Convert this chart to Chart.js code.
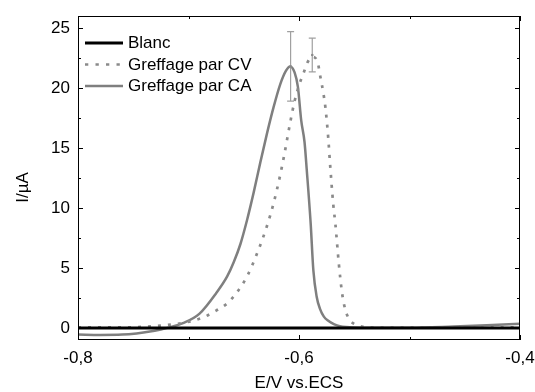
<!DOCTYPE html>
<html>
<head>
<meta charset="utf-8">
<script src="https://cdn.jsdelivr.net/npm/chart.js@4.4.1/dist/chart.umd.min.js"></script>
<style>
  html, body { margin: 0; padding: 0; background: #fff; }
  canvas { display: block; }
</style>
</head>
<body>
<canvas id="voltammo" width="535" height="392"></canvas>
<script>
// potentials (V vs ECS) and currents (µA)
const blancE = [-0.8, -0.7, -0.6, -0.5, -0.4];
const blancI = [0, 0, 0, 0, 0];

const cvE = [-0.8, -0.76, -0.74, -0.725, -0.71, -0.696, -0.685, -0.675, -0.665, -0.656,
  -0.647, -0.638, -0.629, -0.623, -0.617, -0.613, -0.608, -0.604, -0.599,
  -0.596, -0.593, -0.588, -0.583, -0.581, -0.578, -0.576, -0.5735, -0.572, -0.569,
  -0.567, -0.564, -0.561, -0.558, -0.554, -0.548, -0.542, -0.52, -0.45, -0.4];
const cvI = [0.05, 0.05, 0.1, 0.2, 0.35, 0.6, 0.95, 1.45, 2.05, 3.0,
  4.3, 6.2, 8.5, 10.4, 12.75, 14.6, 17.1, 18.9, 20.5,
  21.2, 22.0, 22.6, 22.1, 21.1, 19.6, 18.3, 15.8, 13.8, 10.3,
  8.6, 5.4, 2.9, 1.5, 0.67, 0.25, 0.1, 0.03, 0.03, 0.05];

const caE = [-0.8, -0.78, -0.76, -0.747, -0.735, -0.725, -0.717, -0.705, -0.69, -0.675,
  -0.665, -0.659, -0.653, -0.647, -0.641, -0.635, -0.629, -0.623, -0.617, -0.612, -0.608,
  -0.604, -0.601, -0.598, -0.595, -0.593, -0.5895, -0.587, -0.584, -0.581, -0.5775,
  -0.5735, -0.568, -0.563, -0.55, -0.5, -0.46, -0.43, -0.4];
const caI = [-0.55, -0.58, -0.55, -0.45, -0.3, -0.12, 0.05, 0.4, 1.2, 2.9,
  4.3, 5.5, 7.0, 9.0, 11.3, 13.8, 16.2, 18.4, 20.3, 21.4, 21.8,
  21.3, 20.1, 17.3, 15.5, 13.2, 8.8, 4.8, 2.6, 1.6, 0.95,
  0.6, 0.3, 0.15, 0.05, 0.02, 0.12, 0.22, 0.35];

// error bars at the peaks
const errE = [-0.6076, -0.588];
const errI = [21.8, 22.75];
const errD = [2.9, 1.4];

const xMajor = [-0.8, -0.6, -0.4];
const xMinor = [-0.7, -0.5];
const yMajor = [0, 5, 10, 15, 20, 25];
const yMinor = [2.5, 7.5, 12.5, 17.5, 22.5];

const pts = (xs, ys) => xs.map((x, i) => ({ x: x, y: ys[i] }));

const FONT = 'Liberation Sans, Arial, sans-serif';

// frame, inward ticks, error bars, legend and y title
const decor = {
  id: 'decor',
  afterDatasetsDraw(chart) {
    const { ctx, scales: { x, y } } = chart;
    ctx.save();
    ctx.strokeStyle = '#a0a0a0';
    ctx.fillStyle = '#8a8a8a';
    ctx.lineWidth = 1.2;
    errE.forEach((e, i) => {
      const px = x.getPixelForValue(e);
      const top = y.getPixelForValue(errI[i] + errD[i]);
      const bot = y.getPixelForValue(errI[i] - errD[i]);
      ctx.beginPath();
      ctx.moveTo(px, top); ctx.lineTo(px, bot);
      ctx.moveTo(px - 3.5, top); ctx.lineTo(px + 3.5, top);
      ctx.moveTo(px - 3.5, bot); ctx.lineTo(px + 3.5, bot);
      ctx.stroke();
      ctx.beginPath();
      ctx.arc(px, y.getPixelForValue(errI[i]), 1.3, 0, Math.PI * 2);
      ctx.fill();
    });
    ctx.restore();
  },
  afterDraw(chart) {
    const { ctx, chartArea: a, scales: { x, y } } = chart;
    ctx.save();
    ctx.strokeStyle = '#000';
    ctx.lineWidth = 1;
    ctx.strokeRect(a.left + 0.5, a.top + 0.5, a.right - a.left - 1, a.bottom - a.top - 1);
    ctx.beginPath();
    const tickX = (v, len) => {
      const px = Math.round(x.getPixelForValue(v)) + 0.5;
      ctx.moveTo(px, a.bottom); ctx.lineTo(px, a.bottom - len);
      ctx.moveTo(px, a.top); ctx.lineTo(px, a.top + len);
    };
    const tickY = (v, len) => {
      const py = Math.round(y.getPixelForValue(v)) + 0.5;
      ctx.moveTo(a.left, py); ctx.lineTo(a.left + len, py);
      ctx.moveTo(a.right, py); ctx.lineTo(a.right - len, py);
    };
    xMajor.forEach(v => tickX(v, 5));
    xMinor.forEach(v => tickX(v, 3));
    yMajor.forEach(v => tickY(v, 5));
    yMinor.forEach(v => tickY(v, 3));
    ctx.stroke();

    // legend, top-left inside the frame
    ctx.font = '17px ' + FONT;
    ctx.textBaseline = 'middle';
    ctx.textAlign = 'left';
    chart.data.datasets.forEach((ds, i) => {
      const ly = a.top + 27 + i * 21.5;
      ctx.beginPath();
      ctx.strokeStyle = ds.borderColor;
      ctx.lineWidth = ds.borderWidth;
      ctx.setLineDash(ds.borderDash ? [3.3, 7.2] : []);
      ctx.moveTo(a.left + 7, ly);
      ctx.lineTo(a.left + 45, ly);
      ctx.stroke();
      ctx.setLineDash([]);
      ctx.fillStyle = '#000';
      ctx.fillText(ds.label, a.left + 50, ly + 0.5);
    });

    ctx.translate(23, (a.top + a.bottom) / 2 + 9.5);
    ctx.rotate(-Math.PI / 2);
    ctx.fillStyle = '#000';
    ctx.textAlign = 'center';
    ctx.fillText('I/µA', 0, 0);
    ctx.restore();
  }
};

new Chart(document.getElementById('voltammo'), {
  type: 'line',
  data: {
    datasets: [
      {
        label: 'Blanc',
        data: pts(blancE, blancI),
        borderColor: '#000',
        backgroundColor: '#000',
        borderWidth: 3,
        pointRadius: 0
      },
      {
        label: 'Greffage par CV',
        data: pts(cvE, cvI),
        borderColor: '#8a8a8a',
        backgroundColor: '#8a8a8a',
        borderWidth: 2.7,
        borderDash: [3, 7],
        pointRadius: 0,
        cubicInterpolationMode: 'monotone'
      },
      {
        label: 'Greffage par CA',
        data: pts(caE, caI),
        borderColor: '#7f7f7f',
        backgroundColor: '#7f7f7f',
        borderWidth: 2.5,
        pointRadius: 0,
        cubicInterpolationMode: 'monotone'
      }
    ]
  },
  options: {
    responsive: false,
    animation: false,
    devicePixelRatio: 1,
    layout: { padding: { left: 0, top: 16, right: 15, bottom: 0 } },
    plugins: {
      legend: { display: false },
      tooltip: { enabled: false }
    },
    scales: {
      x: {
        type: 'linear',
        min: -0.8,
        max: -0.4,
        afterFit: s => { s.height = 52; s.paddingLeft = 0; s.paddingRight = 0; },
        afterBuildTicks: s => { s.ticks = xMajor.map(v => ({ value: v })); },
        grid: { display: false, drawTicks: false },
        border: { display: false },
        ticks: {
          padding: 8,
          color: '#000',
          font: { family: FONT, size: 17 },
          callback: v => v.toFixed(1).replace('.', ',')
        },
        title: {
          display: true,
          text: 'E/V vs.ECS',
          color: '#000',
          font: { family: FONT, size: 17 },
          padding: { top: 0, bottom: -2 }
        }
      },
      y: {
        min: -1,
        max: 26,
        afterFit: s => { s.width = 78; s.paddingTop = 0; s.paddingBottom = 0; },
        afterBuildTicks: s => { s.ticks = yMajor.map(v => ({ value: v })); },
        grid: { display: false, drawTicks: false },
        border: { display: false },
        ticks: {
          padding: 8,
          color: '#000',
          font: { family: FONT, size: 17 }
        }
      }
    }
  },
  plugins: [decor]
});
</script>
</body>
</html>
